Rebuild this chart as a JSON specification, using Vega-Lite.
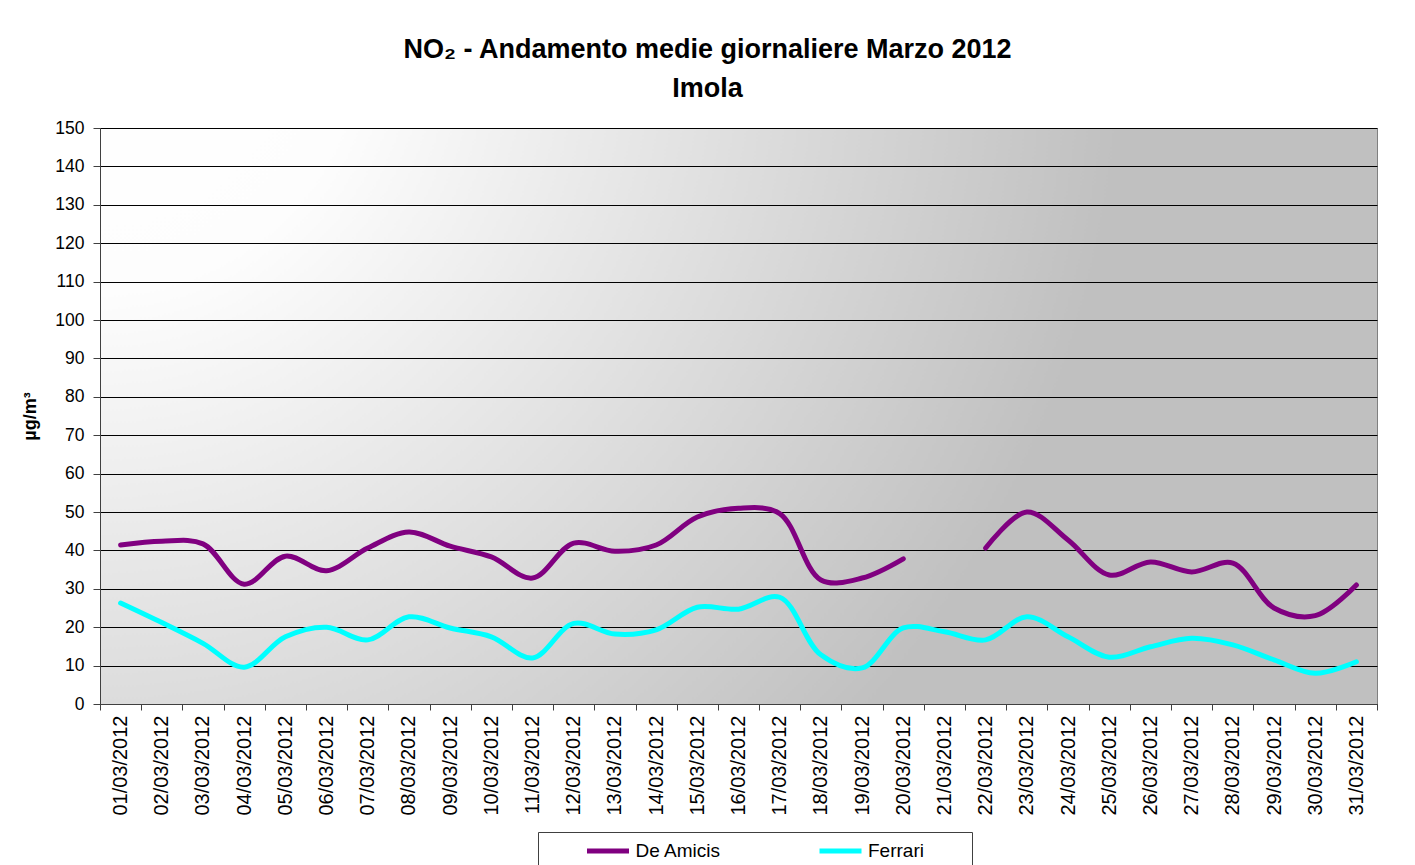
{
  "$schema": "https://vega.github.io/schema/vega-lite/v6.json",
  "width": 1277,
  "height": 576,
  "autosize": {"type": "none"},
  "padding": {"left": 100, "top": 128, "right": 38, "bottom": 161},
  "background": "white",
  "title": {
    "text": ["NO₂ - Andamento medie giornaliere Marzo 2012", "Imola"],
    "font": "Liberation Sans",
    "fontSize": 27,
    "fontWeight": "bold",
    "color": "black",
    "lineHeight": 39,
    "anchor": "middle",
    "frame": "group",
    "dx": -31,
    "baseline": "bottom",
    "offset": -11
  },
  "config": {
    "font": "Liberation Sans",
    "view": {
      "stroke": "#808080",
      "strokeWidth": 1,
      "fill": {
        "gradient": "radial",
        "x1": 0, "y1": 0.2, "r1": 0,
        "x2": 0, "y2": 0.2, "r2": 0.8,
        "stops": [
          {"offset": 0, "color": "#ffffff"},
          {"offset": 0.25, "color": "#fdfdfd"},
          {"offset": 1, "color": "#c0c0c0"}
        ]
      }
    }
  },
  "data": {
    "values": [
      {"date": "01/03/2012", "station": "De Amicis", "value": 41.4},
      {"date": "02/03/2012", "station": "De Amicis", "value": 42.4},
      {"date": "03/03/2012", "station": "De Amicis", "value": 41.7},
      {"date": "04/03/2012", "station": "De Amicis", "value": 31.2},
      {"date": "05/03/2012", "station": "De Amicis", "value": 38.5},
      {"date": "06/03/2012", "station": "De Amicis", "value": 34.7},
      {"date": "07/03/2012", "station": "De Amicis", "value": 40.6},
      {"date": "08/03/2012", "station": "De Amicis", "value": 44.8},
      {"date": "09/03/2012", "station": "De Amicis", "value": 41.1},
      {"date": "10/03/2012", "station": "De Amicis", "value": 38.3},
      {"date": "11/03/2012", "station": "De Amicis", "value": 32.8},
      {"date": "12/03/2012", "station": "De Amicis", "value": 41.9},
      {"date": "13/03/2012", "station": "De Amicis", "value": 39.8},
      {"date": "14/03/2012", "station": "De Amicis", "value": 41.4},
      {"date": "15/03/2012", "station": "De Amicis", "value": 48.7},
      {"date": "16/03/2012", "station": "De Amicis", "value": 51.0},
      {"date": "17/03/2012", "station": "De Amicis", "value": 49.6},
      {"date": "18/03/2012", "station": "De Amicis", "value": 32.3},
      {"date": "19/03/2012", "station": "De Amicis", "value": 32.8},
      {"date": "20/03/2012", "station": "De Amicis", "value": 37.8},
      {"date": "21/03/2012", "station": "De Amicis", "value": null},
      {"date": "22/03/2012", "station": "De Amicis", "value": 40.6},
      {"date": "23/03/2012", "station": "De Amicis", "value": 50.0},
      {"date": "24/03/2012", "station": "De Amicis", "value": 42.7},
      {"date": "25/03/2012", "station": "De Amicis", "value": 33.6},
      {"date": "26/03/2012", "station": "De Amicis", "value": 37.0},
      {"date": "27/03/2012", "station": "De Amicis", "value": 34.4},
      {"date": "28/03/2012", "station": "De Amicis", "value": 36.7},
      {"date": "29/03/2012", "station": "De Amicis", "value": 25.0},
      {"date": "30/03/2012", "station": "De Amicis", "value": 23.0},
      {"date": "31/03/2012", "station": "De Amicis", "value": 31.0},
      {"date": "01/03/2012", "station": "Ferrari", "value": 26.3},
      {"date": "02/03/2012", "station": "Ferrari", "value": 21.2},
      {"date": "03/03/2012", "station": "Ferrari", "value": 15.8},
      {"date": "04/03/2012", "station": "Ferrari", "value": 9.6},
      {"date": "05/03/2012", "station": "Ferrari", "value": 17.5},
      {"date": "06/03/2012", "station": "Ferrari", "value": 20.0},
      {"date": "07/03/2012", "station": "Ferrari", "value": 16.7},
      {"date": "08/03/2012", "station": "Ferrari", "value": 22.7},
      {"date": "09/03/2012", "station": "Ferrari", "value": 19.8},
      {"date": "10/03/2012", "station": "Ferrari", "value": 17.5},
      {"date": "11/03/2012", "station": "Ferrari", "value": 12.0},
      {"date": "12/03/2012", "station": "Ferrari", "value": 21.0},
      {"date": "13/03/2012", "station": "Ferrari", "value": 18.2},
      {"date": "14/03/2012", "station": "Ferrari", "value": 19.3},
      {"date": "15/03/2012", "station": "Ferrari", "value": 25.2},
      {"date": "16/03/2012", "station": "Ferrari", "value": 24.7},
      {"date": "17/03/2012", "station": "Ferrari", "value": 27.8},
      {"date": "18/03/2012", "station": "Ferrari", "value": 12.8},
      {"date": "19/03/2012", "station": "Ferrari", "value": 9.4},
      {"date": "20/03/2012", "station": "Ferrari", "value": 19.8},
      {"date": "21/03/2012", "station": "Ferrari", "value": 18.8},
      {"date": "22/03/2012", "station": "Ferrari", "value": 16.7},
      {"date": "23/03/2012", "station": "Ferrari", "value": 22.7},
      {"date": "24/03/2012", "station": "Ferrari", "value": 17.5},
      {"date": "25/03/2012", "station": "Ferrari", "value": 12.2},
      {"date": "26/03/2012", "station": "Ferrari", "value": 14.9},
      {"date": "27/03/2012", "station": "Ferrari", "value": 17.1},
      {"date": "28/03/2012", "station": "Ferrari", "value": 15.4},
      {"date": "29/03/2012", "station": "Ferrari", "value": 11.5},
      {"date": "30/03/2012", "station": "Ferrari", "value": 8.0},
      {"date": "31/03/2012", "station": "Ferrari", "value": 11.0}
    ]
  },
  "mark": {"type": "line", "interpolate": "catmull-rom", "strokeWidth": 5, "strokeCap": "round"},
  "encoding": {
    "x": {
      "field": "date",
      "type": "ordinal",
      "sort": null,
      "scale": {"type": "band", "paddingInner": 0, "paddingOuter": 0},
      "axis": {
        "title": null,
        "labelAngle": -90,
        "labelFontSize": 20,
        "labelColor": "black",
        "labelPadding": 5,
        "tickBand": "extent",
        "tickSize": 6,
        "tickColor": "#404040",
        "domainColor": "#404040",
        "grid": false
      }
    },
    "y": {
      "field": "value",
      "type": "quantitative",
      "scale": {"domain": [0, 150], "nice": false},
      "axis": {
        "title": "µg/m³",
        "titleFontSize": 18,
        "titleFontWeight": "bold",
        "titleColor": "black",
        "titleX": -70,
        "titleY": 288,
        "titleAlign": "center",
        "titleBaseline": "middle",
        "titleAngle": -90,
        "values": [0, 10, 20, 30, 40, 50, 60, 70, 80, 90, 100, 110, 120, 130, 140, 150],
        "labelFontSize": 17.5,
        "labelColor": "black",
        "labelPadding": 9,
        "tickSize": 7,
        "tickColor": "#404040",
        "domainColor": "#404040",
        "grid": true,
        "gridColor": "black",
        "gridWidth": 1
      }
    },
    "color": {
      "field": "station",
      "type": "nominal",
      "scale": {"domain": ["De Amicis", "Ferrari"], "range": ["#800080", "#00ffff"]},
      "legend": {
        "title": "\u00a0",
        "titleOrient": "left",
        "titleFontSize": 11,
        "titlePadding": 51,
        "orient": "none",
        "legendX": 438,
        "legendY": 704,
        "direction": "horizontal",
        "strokeColor": "#404040",
        "fillColor": "white",
        "padding": 6,
        "symbolType": "M-2,0H2",
        "symbolStrokeWidth": 5,
        "symbolSize": 441,
        "labelFontSize": 19,
        "labelColor": "black",
        "labelOffset": 14.5,
        "labelExpr": "datum.label == 'Ferrari' ? 'Ferrari\u2800\u2800\u2800' : datum.label",
        "columnPadding": 87.5
      }
    }
  }
}
